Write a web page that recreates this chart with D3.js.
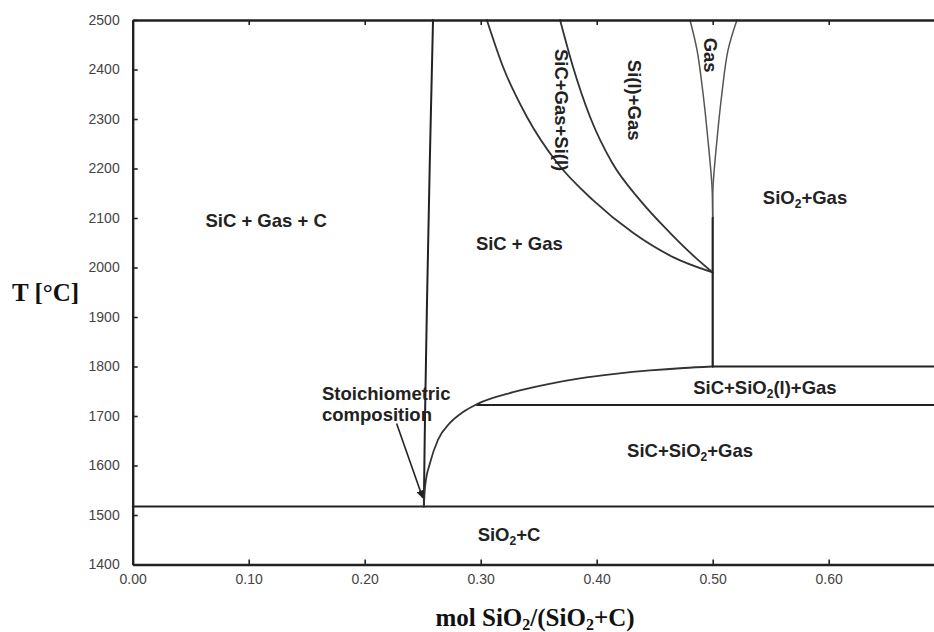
<!DOCTYPE html>
<html>
<head>
<meta charset="utf-8">
<script src="https://cdn.jsdelivr.net/npm/d3@7"></script>
<style>
  html, body { margin: 0; padding: 0; background: #fff; }
  svg { display: block; }
  .tick text { font-family: "Liberation Sans", Arial, sans-serif; font-size: 14px; fill: #444; }
  .region { font-family: "Liberation Sans", Arial, sans-serif; font-size: 18.5px; font-weight: bold; fill: #222; }
  .title { font-family: "Liberation Serif", "Times New Roman", serif; font-size: 25px; font-weight: bold; fill: #111; }
</style>
</head>
<body>
<svg id="chart" width="934" height="632"></svg>
<script>
// Si-C-O phase diagram: temperature vs. mol SiO2/(SiO2+C)

// axis ticks
const xTicks = [0.0, 0.1, 0.2, 0.3, 0.4, 0.5, 0.6];
const xTickLabels = ["0.00", "0.10", "0.20", "0.30", "0.40", "0.50", "0.60"];
const yTicks = [1400, 1500, 1600, 1700, 1800, 1900, 2000, 2100, 2200, 2300, 2400, 2500];

// phase boundaries, [mol fraction, T in °C]
const stoichLine = [[0.2510, 1517], [0.2520, 1700], [0.2537, 1930], [0.2560, 2200], [0.2589, 2500]];
const sicGasSiBoundary = [[0.3053, 2500], [0.3193, 2405], [0.3399, 2304], [0.3657, 2212], [0.3968, 2136],
                          [0.4313, 2070], [0.4658, 2021], [0.5, 1990]];
const siLiquidBoundary = [[0.3684, 2500], [0.3796, 2405], [0.3943, 2304], [0.4132, 2212], [0.4373, 2136],
                          [0.4632, 2070], [0.4847, 2021], [0.5, 1990]];
const gasLeft = [[0.4804, 2500], [0.4865, 2439], [0.4916, 2353], [0.4959, 2258], [0.4994, 2163], [0.5, 2100]];
const gasRight = [[0.5209, 2500], [0.5132, 2439], [0.5080, 2353], [0.5037, 2258], [0.5003, 2163], [0.5, 2100]];
const sio2Liquidus = [[0.2510, 1517], [0.2520, 1557], [0.2563, 1605], [0.2632, 1652], [0.2735, 1686], [0.2847, 1708],
                      [0.2968, 1724], [0.3279, 1748], [0.3571, 1764], [0.3856, 1776], [0.4159, 1785], [0.4459, 1792],
                      [0.4750, 1797], [0.5, 1800]];
const verticalHalf = [[0.5, 1800], [0.5, 2100]];
const isotherm1517 = [[0.0, 1517], [0.7, 1517]];
const isotherm1800 = [[0.5, 1800], [0.7, 1800]];
const isotherm1722 = [[0.2968, 1722], [0.7, 1722]];

// arrow to the stoichiometric point: [tail, head]
const arrowPts = [[0.2275, 1685], [0.2500, 1535]];

// region labels: text parts (s = subscript), position, rotation
const regionLabels = [
  { parts: [["SiC + Gas + C"]], x: 0.115, t: 2094, rot: 0 },
  { parts: [["SiC + Gas"]], x: 0.3333, t: 2049, rot: 0 },
  { parts: [["SiC+Gas+Si(l)"]], x: 0.370, t: 2318, rot: 90 },
  { parts: [["Si(l)+Gas"]], x: 0.4322, t: 2338, rot: 90 },
  { parts: [["Gas"]], x: 0.4977, t: 2429, rot: 90 },
  { parts: [["SiO"], ["2", "s"], ["+Gas"]], x: 0.5796, t: 2142, rot: 0 },
  { parts: [["SiC+SiO"], ["2", "s"], ["(l)+Gas"]], x: 0.545, t: 1757, rot: 0 },
  { parts: [["SiC+SiO"], ["2", "s"], ["+Gas"]], x: 0.4805, t: 1631, rot: 0 },
  { parts: [["SiO"], ["2", "s"], ["+C"]], x: 0.3244, t: 1460, rot: 0 }
];
const stoichText = ["Stoichiometric", "composition"];

const svg = d3.select("#chart");
const x = d3.scaleLinear().domain([0, 0.7]).range([132.7, 944.7]);
const y = d3.scaleLinear().domain([1400, 2500]).range([564.5, 20]);

const line = d3.line().x(d => x(d[0])).y(d => y(d[1]));
const smooth = d3.line().x(d => x(d[0])).y(d => y(d[1])).curve(d3.curveCatmullRom.alpha(0.5));
const smoothX = d3.line().x(d => x(d[0])).y(d => y(d[1])).curve(d3.curveMonotoneX);

const ink = "#222";

// boundaries
const g = svg.append("g").attr("fill", "none").attr("stroke", ink).attr("stroke-linecap", "round");
g.append("path").attr("d", line(isotherm1517)).attr("stroke-width", 2);
g.append("path").attr("d", line(isotherm1800)).attr("stroke-width", 2);
g.append("path").attr("d", line(isotherm1722)).attr("stroke-width", 2);
g.append("path").attr("d", smooth(stoichLine)).attr("stroke-width", 2);
g.append("path").attr("d", smoothX(sicGasSiBoundary)).attr("stroke-width", 1.8).attr("stroke", "#333");
g.append("path").attr("d", smoothX(siLiquidBoundary)).attr("stroke-width", 1.8).attr("stroke", "#333");
g.append("path").attr("d", smooth(gasLeft)).attr("stroke-width", 1.5).attr("stroke", "#555");
g.append("path").attr("d", smooth(gasRight)).attr("stroke-width", 1.5).attr("stroke", "#555");
g.append("path").attr("d", smoothX(sio2Liquidus)).attr("stroke-width", 1.8).attr("stroke", "#333");
g.append("path").attr("d", line(verticalHalf)).attr("stroke-width", 2.2);

// arrow
svg.append("defs").append("marker")
  .attr("id", "head").attr("viewBox", "0 0 10 10").attr("refX", 9).attr("refY", 5)
  .attr("markerWidth", 5).attr("markerHeight", 5).attr("orient", "auto")
  .append("path").attr("d", "M0,0L10,5L0,10Z").attr("fill", ink);
svg.append("path").attr("d", line(arrowPts)).attr("stroke", ink).attr("stroke-width", 1.6)
  .attr("fill", "none").attr("marker-end", "url(#head)");

// axes
const axisStyle = sel => {
  sel.select(".domain").attr("stroke", ink).attr("stroke-width", 2.4);
  sel.selectAll(".tick line").attr("stroke", ink).attr("stroke-width", 1.6);
};
svg.append("g").attr("transform", `translate(0,${y(1400)})`)
  .call(d3.axisBottom(x).tickValues(xTicks).tickFormat((d, i) => xTickLabels[i]).tickSize(-5).tickSizeOuter(0).tickPadding(10))
  .call(axisStyle);
svg.append("g").attr("transform", `translate(0,${y(2500)})`)
  .call(d3.axisTop(x).tickValues(xTicks).tickFormat("").tickSize(-5).tickSizeOuter(0))
  .call(axisStyle);
svg.append("g").attr("transform", `translate(${x(0)},0)`)
  .call(d3.axisLeft(y).tickValues(yTicks).tickFormat(d3.format("d")).tickSize(-5).tickSizeOuter(0).tickPadding(13))
  .call(axisStyle);

// region labels
regionLabels.forEach(lb => {
  const t = svg.append("text").attr("class", "region")
    .attr("text-anchor", "middle")
    .attr("transform", `translate(${x(lb.x)},${y(lb.t)}) rotate(${lb.rot})`)
    .attr("dy", "0.35em");
  lb.parts.forEach(p => {
    const s = t.append("tspan").text(p[0]);
    if (p[1] === "s") s.attr("font-size", "12px").attr("baseline-shift", "-30%");
  });
});

// stoichiometric annotation
svg.append("text").attr("class", "region")
  .attr("x", 322).attr("y", y(1745)).attr("dy", "0.35em")
  .selectAll("tspan").data(stoichText).join("tspan")
  .attr("x", 322).attr("dy", (d, i) => i === 0 ? "0.35em" : "1.1em").text(d => d);

// axis titles
svg.append("text").attr("class", "title").attr("x", 12).attr("y", 301).text("T [°C]");
const xt = svg.append("text").attr("class", "title").attr("x", 535).attr("y", 626).attr("text-anchor", "middle");
xt.append("tspan").text("mol SiO");
xt.append("tspan").text("2").attr("font-size", "16px").attr("baseline-shift", "-25%");
xt.append("tspan").text("/(SiO");
xt.append("tspan").text("2").attr("font-size", "16px").attr("baseline-shift", "-25%");
xt.append("tspan").text("+C)");
</script>
</body>
</html>
